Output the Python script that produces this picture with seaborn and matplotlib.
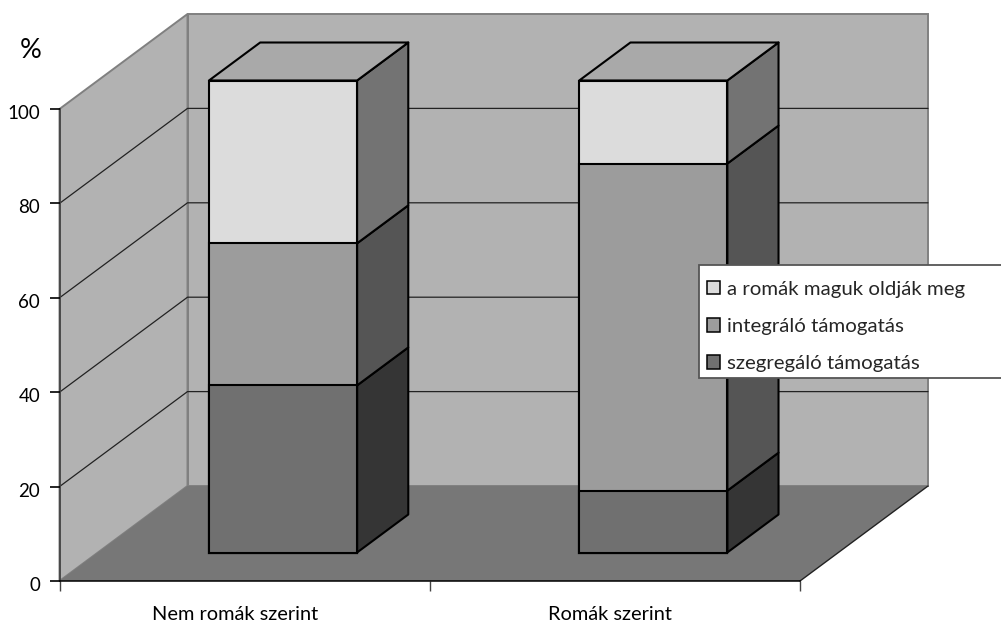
import numpy as np
import pandas as pd
import seaborn as sns
import matplotlib
matplotlib.use("Agg")
import matplotlib.pyplot as plt
from matplotlib.lines import Line2D
from matplotlib.patches import Patch, Rectangle
from matplotlib.transforms import Affine2D, ScaledTranslation

categories = ["Nem romák szerint", "Romák szerint"]
szegregalo = [35.4, 13.1]
integralo = [30.1, 69.3]
magukoldjak = [34.5, 17.6]
series_names = ["szegregáló támogatás", "integráló támogatás", "a romák maguk oldják meg"]
y_ticks = [0, 20, 40, 60, 80, 100]

FRONT = ["#707070", "#9c9c9c", "#dcdcdc"]
SIDE = ["#353535", "#555555", "#737373"]
TOP = "#a9a9a9"
WALL = "#b2b2b2"
FLOOR = "#777777"
EDGE = "#808080"

sns.set_style("ticks")
plt.rcParams["font.family"] = ["Lato", "DejaVu Sans"]

W, H = 1001, 622
fig = plt.figure(figsize=(W / 100, H / 100), dpi=100)
L, R, B, T = 59.5, 800, 581, 109
ax = fig.add_axes([L / W, 1 - B / H, (R - L) / W, (B - T) / H])

# Oblique depth: pixels converted into data units
X0, X1, Y0, Y1 = -0.5, 1.5, 0, 100
DX = 128 / ((R - L) / (X1 - X0))
DY = 95 / ((B - T) / (Y1 - Y0))
Z0, Z1 = 0.3, 0.7
BAR_W = 0.4


def pr(x, y, z):
    return x + z * DX, y + z * DY


def face(pts, **kw):
    xy = [pr(*p) for p in pts]
    ax.fill([p[0] for p in xy], [p[1] for p in xy], clip_on=False, **kw)


# walls and floor
face([(X0, Y0, 1), (X1, Y0, 1), (X1, Y1, 1), (X0, Y1, 1)], facecolor=WALL, edgecolor=EDGE, lw=1.4, zorder=1)
face([(X0, Y0, 0), (X0, Y0, 1), (X0, Y1, 1), (X0, Y1, 0)], facecolor=WALL, edgecolor=EDGE, lw=1.4, zorder=1)
face([(X0, Y0, 0), (X1, Y0, 0), (X1, Y0, 1), (X0, Y0, 1)], facecolor=FLOOR, edgecolor="none", zorder=1.2)
ax.plot(*zip(pr(X1, Y0, 0), pr(X1, Y0, 1)), color="#222222", lw=1, clip_on=False, zorder=1.3)
for v in y_ticks[1:-1]:
    ax.plot(*zip(pr(X0, v, 0), pr(X0, v, 1), pr(X1, v, 1)), color="#222222", lw=0.9, clip_on=False, zorder=1.5)

# stacked bars: front faces through seaborn, tallest cumulative first
stack = np.array([szegregalo, integralo, magukoldjak])
cum = stack.cumsum(axis=0)
shift = Affine2D().translate(Z0 * DX, Z0 * DY)
for i in [2, 1, 0]:
    df = pd.DataFrame({"cat": categories, "v": cum[i]})
    n0 = len(ax.patches)
    sns.barplot(data=df, x="cat", y="v", color=FRONT[i], saturation=1, width=BAR_W,
                edgecolor="black", linewidth=1.5, ax=ax, zorder=3 + (2 - i) * 0.1)
    for p in ax.patches[n0:]:
        p.set_transform(shift + ax.transData)
        p.set_clip_on(False)

# sides and top faces
for c in range(len(categories)):
    xr = c + BAR_W / 2
    xl = c - BAR_W / 2
    lo = 0
    for i in range(3):
        hi = cum[i][c]
        face([(xr, lo, Z0), (xr, lo, Z1), (xr, hi, Z1), (xr, hi, Z0)],
             facecolor=SIDE[i], edgecolor="black", lw=1.5, zorder=2.8, joinstyle="round")
        lo = hi
    face([(xl, lo, Z0), (xr, lo, Z0), (xr, lo, Z1), (xl, lo, Z1)],
         facecolor=TOP, edgecolor="black", lw=1.5, zorder=2.8, joinstyle="round")

# axes
ax.set_xlim(X0, X1)
ax.set_ylim(Y0, Y1)
ax.set_xlabel("")
ax.set_ylabel("")
ax.patch.set_visible(False)
for s in ["top", "right"]:
    ax.spines[s].set_visible(False)
ax.spines["left"].set_color("#444444")
ax.spines["left"].set_linewidth(1.3)
ax.spines["bottom"].set_color("black")
ax.spines["bottom"].set_linewidth(1.1)
ax.spines["left"].set_zorder(4)
ax.spines["bottom"].set_zorder(4)
ax.set_yticks(y_ticks)
ax.tick_params(axis="y", which="major", left=False, labelsize=13.5, pad=10.5, labelcolor="black")
# value-axis tick marks, one per tick value, sticking out 10 px from the axis
tick_frac = 10 / (R - L)
for v in y_ticks:
    fig.add_artist(Line2D([-tick_frac, 0], [v, v], transform=ax.get_yaxis_transform(),
                          color="black", lw=1.2, zorder=10, solid_capstyle="butt"))
ax.set_xticks([X0, (X0 + X1) / 2, X1])
ax.set_xticklabels([])
ax.tick_params(axis="x", which="major", length=7.2, width=1, color="#444444")
ax.set_xticks([0, 1], minor=True)
ax.set_xticklabels(categories, minor=True)
ax.tick_params(axis="x", which="minor", length=0, labelsize=14.4, pad=18, labelcolor="black")
for lab, dx_px in zip(ax.get_xticklabels(minor=True), [-10, -5]):
    lab.set_transform(lab.get_transform() + ScaledTranslation(dx_px / 100, 0, fig.dpi_scale_trans))
for lab in ax.get_yticklabels():
    lab.set_transform(lab.get_transform() + ScaledTranslation(0, -3 / 100, fig.dpi_scale_trans))

fig.text(31 / W, 1 - 51 / H, "%", fontsize=19.5, ha="center", va="center", color="black")

# legend box running off the right edge
fig.add_artist(Rectangle((698.5 / W, 1 - 378 / H), 310 / W, 113 / H, transform=fig.transFigure,
                         facecolor="white", edgecolor="#555555", lw=1.3, zorder=5))
handles = [Patch(facecolor=FRONT[i], edgecolor="black", lw=1.1, label=series_names[i]) for i in [2, 1, 0]]
leg = fig.legend(handles=handles, loc="center left", bbox_to_anchor=(707 / W, 1 - 326.5 / H),
                 frameon=False, fontsize=14.7, handlelength=0.66, handleheight=0.66, handletextpad=0.32,
                 labelspacing=1.0, borderpad=0, borderaxespad=0)
leg.set_zorder(6)

fig.savefig("out.png", dpi=100, facecolor="white")
